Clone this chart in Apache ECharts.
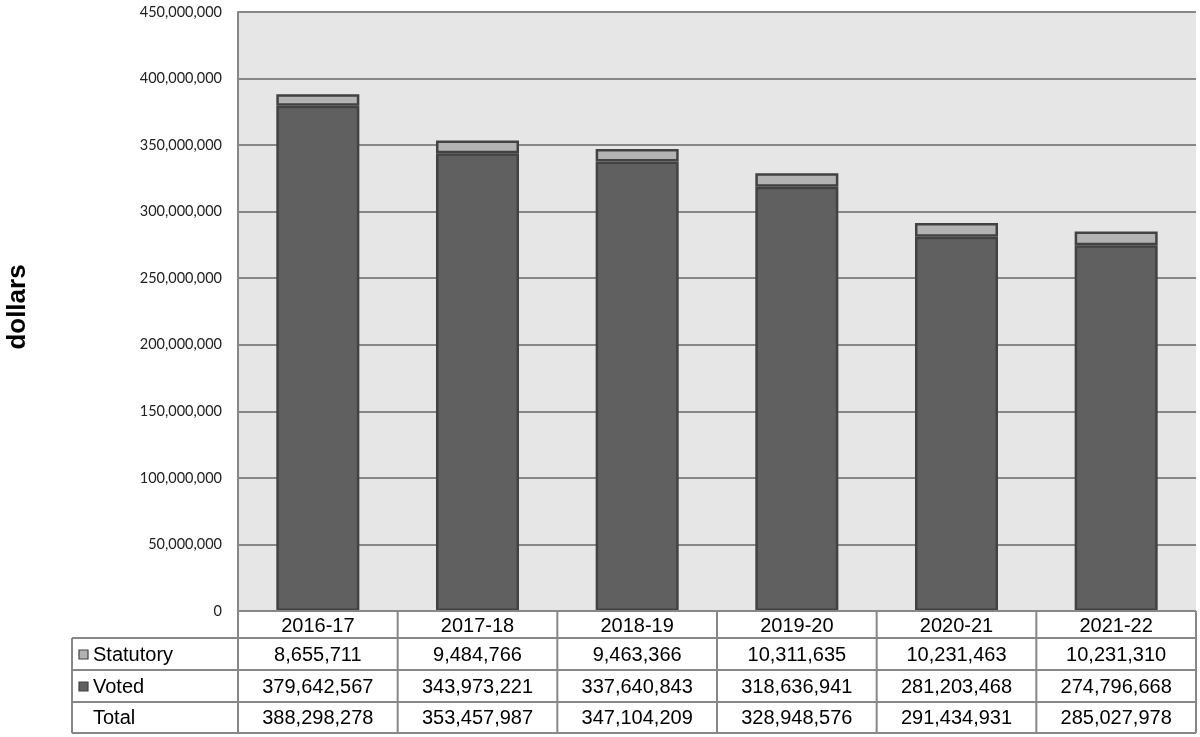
<!DOCTYPE html>
<html>
<head>
<meta charset="utf-8">
<script src="https://cdn.jsdelivr.net/npm/echarts@6/dist/echarts.min.js"></script>
<style>
html,body{margin:0;padding:0;background:#fff;}
#c{width:1200px;height:737px;}
</style>
</head>
<body>
<div id="c"></div>
<script>
// ---- Data ----
const categories = ['2016-17', '2017-18', '2018-19', '2019-20', '2020-21', '2021-22'];
const statutory = [8655711, 9484766, 9463366, 10311635, 10231463, 10231310];
const voted = [379642567, 343973221, 337640843, 318636941, 281203468, 274796668];
const totals = [388298278, 353457987, 347104209, 328948576, 291434931, 285027978];
const seriesNames = ['Statutory', 'Voted', 'Total'];
const yTicks = { min: 0, max: 450000000, interval: 50000000 };

// ---- Layout ----
const W = 1200, H = 737;
const gLeft = 238, gRight = 1196, gTop = 12, gBottom = 611;
const rowLines = [611, 638, 670, 702, 733];
const tableLeft = 72;
const lineColor = '#878787';
const darkFill = '#606060', lightFill = '#b3b3b3', edge = '#424242';
const tableFont = '20px "Liberation Sans", Arial, sans-serif';

const fmt = v => v.toLocaleString('en-US');
const chart = echarts.init(document.getElementById('c'));

const colW = (gRight - gLeft) / categories.length;
const graphic = [];
rowLines.forEach((y, i) => {
  graphic.push({ type: 'line', shape: { x1: i === 0 ? gLeft : tableLeft, y1: y, x2: gRight, y2: y },
    style: { stroke: lineColor, lineWidth: 2 }, z: 10 });
});
graphic.push({ type: 'line', shape: { x1: tableLeft, y1: rowLines[1], x2: tableLeft, y2: rowLines[4] },
  style: { stroke: lineColor, lineWidth: 2 }, z: 10 });
for (let i = 0; i <= categories.length; i++) {
  const x = gLeft + i * colW;
  graphic.push({ type: 'line', shape: { x1: x, y1: rowLines[0], x2: x, y2: rowLines[4] },
    style: { stroke: lineColor, lineWidth: 2 }, z: 10 });
}
const rowsData = [statutory, voted, totals];
const markerFill = [lightFill, darkFill, null];
rowsData.forEach((arr, r) => {
  const yc = (rowLines[r + 1] + rowLines[r + 2]) / 2 + 1;
  if (markerFill[r]) {
    graphic.push({ type: 'rect', shape: { x: 79, y: yc - 5, width: 9, height: 9 },
      style: { fill: markerFill[r], stroke: edge, lineWidth: 1.2 }, z: 11 });
  }
  graphic.push({ type: 'text', x: 93, y: yc,
    style: { text: seriesNames[r], font: tableFont, fill: '#000',
      textVerticalAlign: 'middle', textAlign: 'left' }, z: 11 });
  arr.forEach((v, i) => {
    graphic.push({ type: 'text', x: gLeft + (i + 0.5) * colW, y: yc,
      style: { text: fmt(v), font: tableFont, fill: '#000',
        textVerticalAlign: 'middle', textAlign: 'center' }, z: 11 });
  });
});
graphic.push({ type: 'text', x: 18, y: 307, rotation: Math.PI / 2,
  style: { text: 'dollars', font: 'bold 26px "Liberation Sans", Arial, sans-serif', fill: '#000',
    textAlign: 'center', textVerticalAlign: 'middle' }, z: 11 });

chart.setOption({
  animation: false,
  backgroundColor: '#fff',
  grid: { left: gLeft, right: W - gRight, top: gTop, bottom: H - gBottom,
    show: true, backgroundColor: '#e6e6e6', borderWidth: 0 },
  xAxis: {
    type: 'category', data: categories,
    axisLine: { show: false }, axisTick: { show: false },
    axisLabel: { margin: 5, fontSize: 20, color: '#000', fontFamily: '"Liberation Sans", Arial, sans-serif' },
    splitLine: { show: false }
  },
  yAxis: {
    type: 'value', min: yTicks.min, max: yTicks.max, interval: yTicks.interval,
    axisLine: { show: true, lineStyle: { color: lineColor, width: 2 } },
    axisTick: { show: false },
    axisLabel: { margin: 16, fontSize: 14.5, color: '#222', fontFamily: 'Lato, "Open Sans", sans-serif',
      formatter: v => fmt(v) },
    splitLine: { show: true, lineStyle: { color: lineColor, width: 2 } }
  },
  series: [
    { name: 'Voted', type: 'bar', stack: 's', data: voted, barWidth: '52%',
      itemStyle: { color: darkFill, borderColor: edge, borderWidth: 2.5 } },
    { name: 'Statutory', type: 'bar', stack: 's', data: statutory, barWidth: '52%',
      itemStyle: { color: lightFill, borderColor: edge, borderWidth: 2.5 } }
  ],
  graphic: graphic
});
</script>
</body>
</html>
